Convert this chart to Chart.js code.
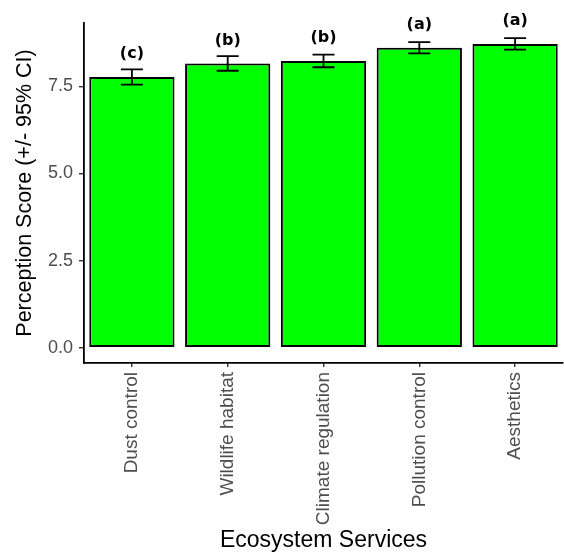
<!DOCTYPE html>
<html>
<head>
<meta charset="utf-8">
<script src="https://cdn.jsdelivr.net/npm/chart.js@4"></script>
<style>
  html, body { margin: 0; padding: 0; background: #ffffff; }
  #wrap { width: 564px; height: 554px; position: relative; }
</style>
</head>
<body>
<div id="wrap"><canvas id="c"></canvas></div>
<script>
// ---- data ----
const categories = ['Dust control', 'Wildlife habitat', 'Climate regulation', 'Pollution control', 'Aesthetics'];
const meanScores = [7.77, 8.16, 8.23, 8.61, 8.72];
const ci95 = [0.22, 0.21, 0.18, 0.16, 0.165];
const groupLetters = ['(c)', '(b)', '(b)', '(a)', '(a)'];
const yTicks = [0, 2.5, 5.0, 7.5];

const FONT = "'Liberation Sans', Arial, sans-serif";

const errorBarPlugin = {
  id: 'errorBars',
  afterDatasetsDraw(chart) {
    const ctx = chart.ctx;
    const yScale = chart.scales.y;
    const meta = chart.getDatasetMeta(0);
    ctx.save();
    ctx.strokeStyle = '#000000';
    ctx.lineWidth = 1.8;
    const capHalf = 11;
    meta.data.forEach((bar, i) => {
      const x = bar.x;
      const yTop = yScale.getPixelForValue(meanScores[i] + ci95[i]);
      const yBot = yScale.getPixelForValue(meanScores[i] - ci95[i]);
      ctx.beginPath();
      ctx.moveTo(x, yTop); ctx.lineTo(x, yBot);
      ctx.moveTo(x - capHalf, yTop); ctx.lineTo(x + capHalf, yTop);
      ctx.moveTo(x - capHalf, yBot); ctx.lineTo(x + capHalf, yBot);
      ctx.stroke();
    });
    // significance letters
    ctx.fillStyle = '#000000';
    ctx.font = "bold 16px 'DejaVu Sans', sans-serif";
    ctx.textAlign = 'center';
    ctx.textBaseline = 'middle';
    meta.data.forEach((bar, i) => {
      const y = yScale.getPixelForValue(meanScores[i] + 0.66);
      ctx.fillText(groupLetters[i], bar.x, y);
    });
    ctx.restore();
  }
};

new Chart(document.getElementById('c'), {
  type: 'bar',
  data: {
    labels: categories,
    datasets: [{
      data: meanScores,
      backgroundColor: '#00FF00',
      borderColor: '#000000',
      borderWidth: 2,
      borderSkipped: false,
      barPercentage: 0.89,
      categoryPercentage: 1.0
    }]
  },
  options: {
    responsive: true,
    maintainAspectRatio: false,
    animation: false,
    layout: { padding: { top: 23, right: 1, left: 0, bottom: 0 } },
    plugins: {
      legend: { display: false },
      tooltip: { enabled: false }
    },
    scales: {
      x: {
        offset: true,
        grid: { display: true, offset: false, drawOnChartArea: false, drawTicks: true, tickLength: 4, color: '#333333', lineWidth: 1.4 },
        border: { display: true, color: '#000000', width: 1.8 },
        ticks: {
          color: '#4D4D4D',
          font: { family: FONT, size: 19 },
          minRotation: 90,
          maxRotation: 90,
          padding: 5,
          autoSkip: false
        },
        title: {
          display: true,
          text: 'Ecosystem Services',
          color: '#000000',
          font: { family: FONT, size: 23 },
          padding: { top: 4, bottom: 0 }
        },
        afterFit(scale) { scale.height = 191; }
      },
      y: {
        min: -0.44,
        max: 9.32,
        afterBuildTicks(scale) { scale.ticks = yTicks.map(v => ({ value: v })); },
        grid: { display: true, drawOnChartArea: false, drawTicks: true, tickLength: 5, color: '#333333', lineWidth: 1.4 },
        border: { display: true, color: '#000000', width: 1.8 },
        ticks: {
          color: '#4D4D4D',
          font: { family: FONT, size: 18 },
          padding: 6,
          callback: (v) => Number(v).toFixed(1)
        },
        title: {
          display: true,
          text: 'Perception Score (+/- 95% CI)',
          color: '#000000',
          font: { family: FONT, size: 21.5 },
          padding: { top: 12, bottom: 0 }
        },
        afterFit(scale) { scale.width = 84; }
      }
    }
  },
  plugins: [errorBarPlugin]
});
</script>
</body>
</html>
